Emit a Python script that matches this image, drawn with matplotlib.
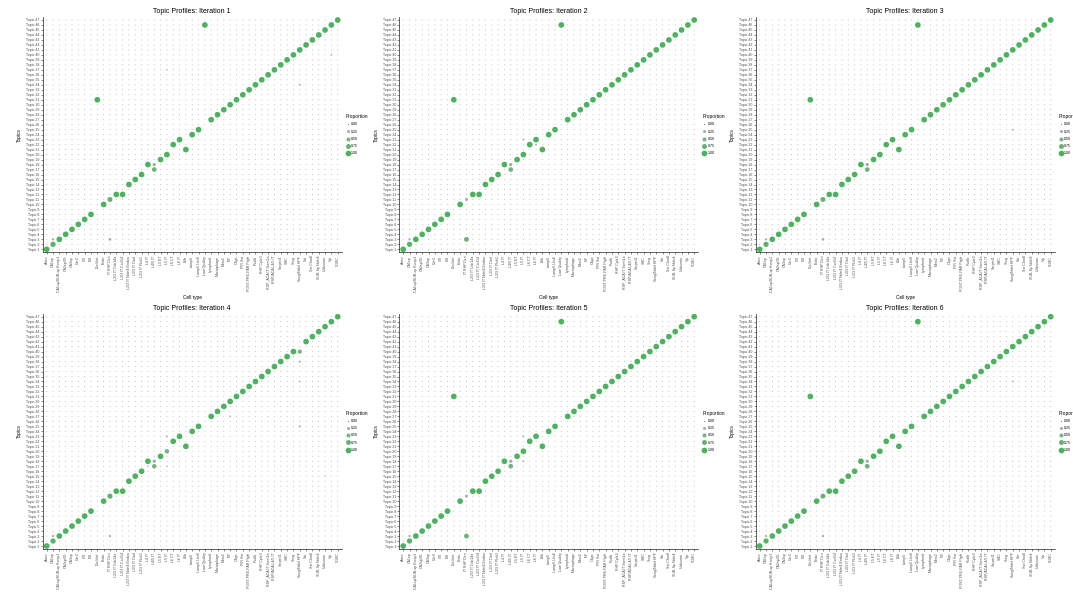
import numpy as np
import matplotlib
matplotlib.use("Agg")
import matplotlib.pyplot as plt
from matplotlib.colors import LinearSegmentedColormap
from matplotlib.lines import Line2D

plt.rcParams["font.family"] = ["Liberation Sans", "DejaVu Sans"]

cell_types = [
    "Astro", "CA1sp", "CA1sp/SUB-sp Kcnip1", "CA2sp/IG", "CA3sp", "Car3", "CR", "DG",
    "Doublet", "Endo", "IT RHP Dcn", "L2/3 IT Cdc14a", "L2/3 IT Cxcl14",
    "L2/3 IT Ndst4 Endou", "L2/3 IT Otof", "L2/3 IT Plch1", "L4 IT", "L4/5 IT",
    "L5 ET", "L5 IT", "L6 CT", "L6 IT", "L6b", "Lamp5", "Lamp5 Lhx6", "Low Quality",
    "Lymphoid", "Macrophage", "Meis2", "NP", "Oligo", "PIR Sst", "POST-PRE-PAR Ptgfr",
    "Pvalb", "RHP Cplx3", "RSP_ACA IT Scnn1a", "RSP/ACA L4/5 IT", "Serpinf1", "SMC",
    "Sncg", "Sncg/Ndnf HPF", "Sst", "Sst Chodl", "SUB-Sp Ndst4", "Unknown", "Vip", "VLMC",
]
topic_labels = ["Topic %d" % i for i in range(1, 48)]
legend_values = [0.00, 0.25, 0.50, 0.75, 1.00]

# dominant topic per cell type (None = no dominant topic)
it1_topic = [1, 2, 3, 4, 5, 6, 7, 8, 31, 10, 11, 12, 12, 14, 15, 16, 18, 17, 19, 20, 22, 23,
             21, 24, 25, 46, 27, 28, 29, 30, 31, 32, 33, 34, 35, 36, 37, 38, 39, 40, 41, 42,
             43, 44, 45, 46, 47]
it2_topic = [1, 2, 3, 4, 5, 6, 7, 8, 31, 10, 3, 12, 12, 14, 15, 16, 18, 17, 19, 20, 22, 23,
             21, 24, 25, 46, 27, 28, 29, 30, 31, 32, 33, 34, 35, 36, 37, 38, 39, 40, 41, 42,
             43, 44, 45, 46, 47]
it3_topic = [1, 2, 3, 4, 5, 6, 7, 8, 31, 10, 11, 12, 12, 14, 15, 16, 18, 17, 19, 20, 22, 23,
             21, 24, 25, 46, 27, 28, 29, 30, 31, 32, 33, 34, 35, 36, 37, 38, 39, 40, 41, 42,
             43, 44, 45, 46, 47]
it4_topic = [1, 2, 3, 4, 5, 6, 7, 8, None, 10, 11, 12, 12, 14, 15, 16, 18, 17, 19, 20, 22, 23,
             21, 24, 25, None, 27, 28, 29, 30, 31, 32, 33, 34, 35, 36, 37, 38, 39, 40, 40, 42,
             43, 44, 45, 46, 47]
it5_topic = [1, 2, 3, 4, 5, 6, 7, 8, 31, 10, 3, 12, 12, 14, 15, 16, 18, 17, 19, 20, 22, 23,
             21, 24, 25, 46, 27, 28, 29, 30, 31, 32, 33, 34, 35, 36, 37, 38, 39, 40, 41, 42,
             43, 44, 45, 46, 47]
it6_topic = [1, 2, 3, 4, 5, 6, 7, 8, 31, 10, 11, 12, 12, 14, 15, 16, 18, 17, 19, 20, 22, 23,
             21, 24, 25, 46, 27, 28, 29, 30, 31, 32, 33, 34, 35, 36, 37, 38, 39, 40, 41, 42,
             43, 44, 45, 46, 47]

# dominant proportion where it is clearly below 1 (cell index -> proportion)
it1_main_p = {1: 0.85, 10: 0.75, 17: 0.65}
it2_main_p = {1: 0.85, 10: 0.7, 17: 0.65}
it3_main_p = {1: 0.85, 10: 0.75, 17: 0.65}
it4_main_p = {1: 0.85, 10: 0.8, 17: 0.6, 19: 0.6, 40: 0.55}
it5_main_p = {1: 0.85, 10: 0.7, 17: 0.65}
it6_main_p = {1: 0.85, 10: 0.75, 17: 0.65}

# minor topic loadings: (cell index, topic, proportion)
it1_minor = [(1, 3, 0.15), (10, 3, 0.2), (17, 18, 0.3), (40, 34, 0.1), (45, 40, 0.08),
             (19, 37, 0.05), (2, 44, 0.03)]
it2_minor = [(1, 3, 0.15), (10, 11, 0.25), (17, 18, 0.3), (19, 23, 0.1), (21, 22, 0.1)]
it3_minor = [(1, 3, 0.15), (10, 3, 0.2), (17, 18, 0.3), (40, 25, 0.1), (19, 23, 0.05)]
it4_minor = [(1, 3, 0.15), (10, 3, 0.15), (17, 18, 0.3), (16, 17, 0.05), (19, 17, 0.05),
             (19, 23, 0.1), (29, 27, 0.08), (40, 38, 0.12), (40, 34, 0.08), (40, 25, 0.12),
             (44, 15, 0.04)]
it5_minor = [(1, 3, 0.15), (10, 11, 0.25), (17, 18, 0.3), (19, 18, 0.1), (19, 23, 0.1)]
it6_minor = [(1, 3, 0.15), (10, 3, 0.15), (17, 18, 0.3), (40, 34, 0.08), (19, 23, 0.05)]

iterations = [
    (1, it1_topic, it1_main_p, it1_minor),
    (2, it2_topic, it2_main_p, it2_minor),
    (3, it3_topic, it3_main_p, it3_minor),
    (4, it4_topic, it4_main_p, it4_minor),
    (5, it5_topic, it5_main_p, it5_minor),
    (6, it6_topic, it6_main_p, it6_minor),
]

cmap = LinearSegmentedColormap.from_list("prop", ["#b3b3b3", "#4bb25d"])
s_min, s_max = 0.5, 17.0


def size_of(p):
    return s_min + (s_max - s_min) * np.asarray(p)


W, H = 1073, 594
fig = plt.figure(figsize=(W / 100, H / 100), dpi=100)
col_step, row_step = 356.5, 296.7
ax_w, ax_h = 298.6, 235.3

for k, (it, main_topic, main_p, minor) in enumerate(iterations):
    r, c = divmod(k, 3)
    left = 42.9 + c * col_step
    top = 17 + r * row_step
    ax = fig.add_axes([left / W, 1 - (top + ax_h) / H, ax_w / W, ax_h / H])

    prop = np.zeros((len(topic_labels), len(cell_types)))
    for j, t in enumerate(main_topic):
        if t is not None:
            prop[t - 1, j] = main_p.get(j, 1.0)
    for j, t, p in minor:
        prop[t - 1, j] = p

    yy, xx = np.meshgrid(np.arange(1, 48), np.arange(len(cell_types)), indexing="ij")
    xs, ys, ps = xx.ravel(), yy.ravel(), prop.ravel()
    order = np.argsort(ps, kind="stable")
    ax.scatter(xs[order], ys[order], s=size_of(ps[order]), c=cmap(ps[order]),
               linewidths=0, zorder=3)

    ax.set_xlim(-0.6, len(cell_types) - 0.4)
    ax.set_ylim(0.4, 47.6)
    ax.set_xticks(range(len(cell_types)))
    ax.set_xticklabels(cell_types, rotation=90, fontsize=2.6, color="#4d4d4d")
    ax.set_yticks(range(1, 48))
    ax.set_yticklabels(topic_labels, fontsize=2.6, color="#4d4d4d")
    ax.tick_params(length=1.5, width=0.4, pad=1, colors="#333333", labelcolor="#4d4d4d")
    for side in ["top", "right"]:
        ax.spines[side].set_visible(False)
    for side in ["left", "bottom"]:
        ax.spines[side].set_linewidth(0.5)
        ax.spines[side].set_color("#222222")
    ax.set_title("Topic Profiles: Iteration %d" % it, fontsize=5, pad=3)
    # the bottom row's x title falls below the canvas in the original
    if r == 0:
        ax.set_xlabel("Cell type", fontsize=3.4, labelpad=2)
    ax.set_ylabel("Topics", fontsize=3.4, labelpad=3)

    handles = [Line2D([], [], linestyle="none", marker="o", markeredgewidth=0,
                      markersize=np.sqrt(size_of(v)), markerfacecolor=cmap(v))
               for v in legend_values]
    leg = ax.legend(handles, ["%.2f" % v for v in legend_values], title="Proportion",
                    loc="center left", bbox_to_anchor=(1.0, 0.5), frameon=False,
                    fontsize=2.6, title_fontsize=3.4, labelspacing=0.9,
                    handlelength=1.0, handletextpad=0.4, borderaxespad=0.8)
    leg._legend_box.align = "left"

fig.savefig("out.png", dpi=100)
